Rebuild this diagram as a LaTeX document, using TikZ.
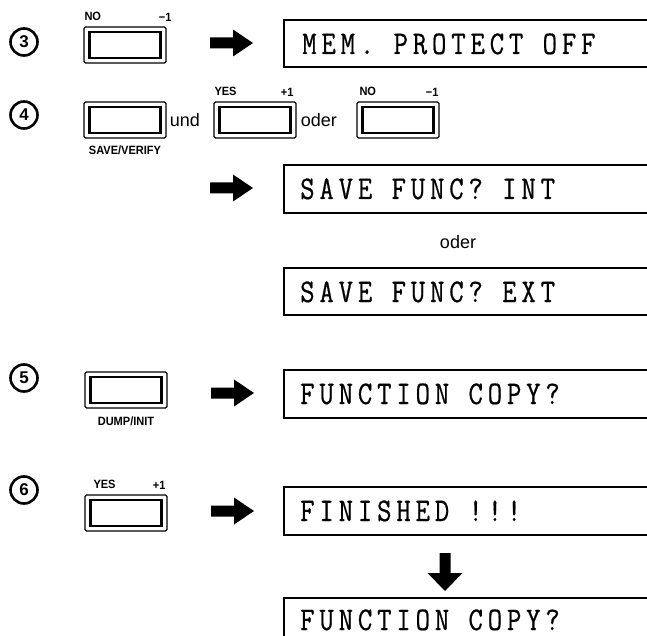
\documentclass[tikz,border=0pt]{standalone}
\usepackage{fontspec}
\setmainfont{Liberation Sans}
\newfontfamily\lcdfont[FakeStretch=0.85,LetterSpace=14.5,FakeBold=0.6]{Latin Modern Mono}
\newfontfamily\labfont[FakeStretch=0.92]{Liberation Sans}
\newcommand{\mns}{\char"2212\relax}
\begin{document}
\begin{tikzpicture}[x=1pt,y=-1pt,
  btnout/.style={draw,line width=1.4pt,rounded corners=1.5pt,minimum width=82pt,minimum height=36pt,inner sep=0pt},
  btnin/.style={draw,line width=2.6pt,minimum width=71pt,minimum height=26pt,inner sep=0pt},
  num/.style={circle,draw,line width=2.6pt,minimum size=27pt,inner sep=0pt,font=\fontsize{17}{17}\selectfont\bfseries},
  lab/.style={inner sep=0pt,font=\fontsize{12}{12}\labfont\bfseries},
  word/.style={inner sep=0pt,font=\fontsize{18}{18}\selectfont},
  lcd/.style={anchor=west,inner sep=0pt,text height=20pt,text depth=0pt,font=\fontsize{33}{33}\lcdfont},
  disp/.style={line width=1.8pt},
  bigarrow/.style={fill=black}
]
\useasboundingbox (0,0) rectangle (647,636);
\clip (0,0) rectangle (647,636);

% ---------- step 3
\node[num] (n3) at (24,42) {3};
\node[btnout] (b3) at (125,45) {};
\node[btnin] at (b3) {};
\node[lab,anchor=south west] (l3a) at ([xshift=1pt,yshift=5pt]b3.north west) {NO};
\node[lab,anchor=south east] (l3b) at ([xshift=5pt,yshift=5pt]b3.north east) {\mns 1};
\coordinate (a3) at (210,43);
\fill[bigarrow] (a3) ++(0,-5.5) -- ++(23,0) -- ++(0,-8) -- ++(20,13.5) -- ++(-20,13.5) -- ++(0,-8) -- ++(-23,0) -- cycle;
\draw[disp] (660,20) -- (284,20) -- (284,67) -- (660,67);
\node[lcd] (t3) at (302,44) {MEM. PROTECT OFF};

% ---------- step 4
\node[num] (n4) at (24,115) {4};
\node[btnout] (b4a) at (125,120) {};
\node[btnin] at (b4a) {};
\node[lab,anchor=north] (l4s) at ([yshift=-7pt]b4a.south) {SAVE/VERIFY};
\node[word,anchor=west] (und) at ([xshift=3pt]b4a.east) {und};
\node[btnout] (b4b) at (255,120) {};
\node[btnin] at (b4b) {};
\node[lab,anchor=south west] (l4y) at ([xshift=1pt,yshift=5pt]b4b.north west) {YES};
\node[lab,anchor=south east] (l4p) at ([xshift=-3pt,yshift=5pt]b4b.north east) {+1};
\node[word,anchor=west] (oder1) at ([xshift=4pt]b4b.east) {oder};
\node[btnout] (b4c) at (398,120) {};
\node[btnin] at (b4c) {};
\node[lab,anchor=south west] (l4n) at ([xshift=3pt,yshift=5pt]b4c.north west) {NO};
\node[lab,anchor=south east] (l4m) at ([xshift=-1pt,yshift=5pt]b4c.north east) {\mns 1};

\coordinate (a4) at (210,188);
\fill[bigarrow] (a4) ++(0,-5.5) -- ++(23,0) -- ++(0,-8) -- ++(20,13.5) -- ++(-20,13.5) -- ++(0,-8) -- ++(-23,0) -- cycle;
\draw[disp] (660,165) -- (284,165) -- (284,213) -- (660,213);
\node[lcd] (t4a) at (300,189) {SAVE FUNC? INT};
\node[word] (oder2) at (458,242) {oder};
\draw[disp] (660,268) -- (284,268) -- (284,315) -- (660,315);
\node[lcd] (t4b) at (300,292) {SAVE FUNC? EXT};

% ---------- step 5
\node[num] (n5) at (24,378) {5};
\node[btnout] (b5) at (126,390) {};
\node[btnin] at (b5) {};
\node[lab,anchor=north] (l5) at ([yshift=-8pt]b5.south) {DUMP/INIT};
\coordinate (a5) at (211,393);
\fill[bigarrow] (a5) ++(0,-5.5) -- ++(23,0) -- ++(0,-8) -- ++(20,13.5) -- ++(-20,13.5) -- ++(0,-8) -- ++(-23,0) -- cycle;
\draw[disp] (660,370) -- (284,370) -- (284,418) -- (660,418);
\node[lcd] (t5) at (300,394) {FUNCTION COPY?};

% ---------- step 6
\node[num] (n6) at (24,490) {6};
\node[btnout] (b6) at (126,513) {};
\node[btnin] at (b6) {};
\node[lab,anchor=south west] (l6y) at ([xshift=9pt,yshift=5pt]b6.north west) {YES};
\node[lab,anchor=south east] (l6p) at ([xshift=-2pt,yshift=5pt]b6.north east) {+1};
\coordinate (a6) at (211,511);
\fill[bigarrow] (a6) ++(0,-5.5) -- ++(23,0) -- ++(0,-8) -- ++(20,13.5) -- ++(-20,13.5) -- ++(0,-8) -- ++(-23,0) -- cycle;
\draw[disp] (660,487) -- (284,487) -- (284,535) -- (660,535);
\node[lcd] (t6a) at (300,511) {FINISHED !!!};
\coordinate (ad) at (445,553);
\fill[bigarrow] (ad) ++(-5.5,0) -- ++(0,20) -- ++(-12,0) -- ++(17.5,18) -- ++(17.5,-18) -- ++(-12,0) -- ++(0,-20) -- cycle;
\draw[disp] (660,598) -- (284,598) -- (284,640);
\node[lcd] (t6b) at (300,620) {FUNCTION COPY?};
\end{tikzpicture}
\end{document}
